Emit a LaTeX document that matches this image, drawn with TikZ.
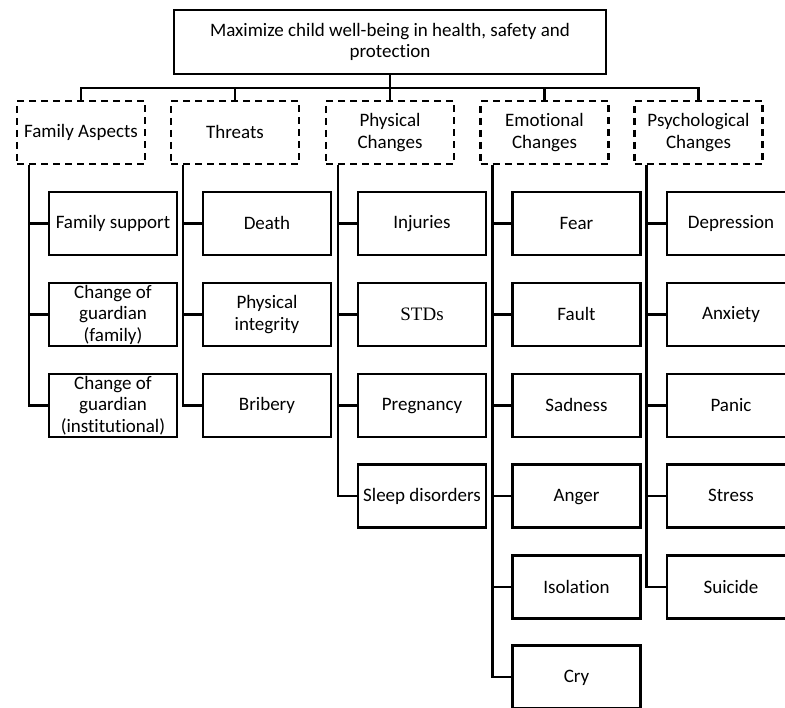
\documentclass[tikz,border=0pt]{standalone}
\usepackage{fontspec}
\setmainfont{Carlito}[Ligatures=NoCommon]
\newfontfamily\serifstd{Liberation Serif}
\newcommand\boxstrut{\rule[-2pt]{0pt}{16pt}}

\begin{document}
\begin{tikzpicture}[x=1pt,y=-1pt,line width=2.1pt,
	font=\fontsize{19}{21.5}\selectfont,
	every node/.style={execute at begin node=\boxstrut,execute at end node=\boxstrut},
	goalbox/.style={draw,align=center,minimum width=432pt,minimum height=64pt,inner sep=0pt},
	catbox/.style={draw,dash pattern=on 7pt off 5pt,align=center,minimum width=128pt,minimum height=63pt,inner sep=0pt},
	itembox/.style={draw,align=center,minimum width=128pt,minimum height=63pt,inner sep=0pt},
	link/.style={line width=2.1pt}]
\clip (0,0) rectangle (785,708);

\node[goalbox] (goal) at (390,42) {Maximize child well-being in health, safety and\\protection};
\coordinate (bus) at (390,88);

\node[catbox] (fam) at (81,132.5) {Family Aspects};
\node[catbox] (thr) at (235,132.5) {Threats};
\node[catbox] (phy) at (390,132.5) {Physical\\Changes};
\node[catbox] (emo) at (544.5,132.5) {Emotional\\Changes};
\node[catbox] (psy) at (698.5,132.5) {Psychological\\Changes};

\draw[link] (goal.south) -- (bus);
\foreach \c in {fam,thr,phy,emo,psy}
	\draw[link] (bus) -| (\c.north);

% family aspects
\node[itembox] (fam1) at (113,223.5) {Family support};
\node[itembox] (fam2) at (113,314.5) {Change of\\guardian\\(family)};
\node[itembox] (fam3) at (113,405.5) {Change of\\guardian\\(institutional)};
% threats
\node[itembox] (thr1) at (267,223.5) {Death};
\node[itembox] (thr2) at (267,314.5) {Physical\\integrity};
\node[itembox] (thr3) at (267,405.5) {Bribery};
% physical changes
\node[itembox] (phy1) at (422,223.5) {Injuries};
\node[itembox] (phy2) at (422,314.5) {\serifstd STDs};
\node[itembox] (phy3) at (422,405.5) {Pregnancy};
\node[itembox] (phy4) at (422,496) {Sleep disorders};
% emotional changes
\node[itembox] (emo1) at (576.5,223.5) {Fear};
\node[itembox] (emo2) at (576.5,314.5) {Fault};
\node[itembox] (emo3) at (576.5,405.5) {Sadness};
\node[itembox] (emo4) at (576.5,496) {Anger};
\node[itembox] (emo5) at (576.5,587) {Isolation};
\node[itembox] (emo6) at (576.5,677) {Cry};
% psychological changes
\node[itembox] (psy1) at (731,223.5) {Depression};
\node[itembox] (psy2) at (731,314.5) {Anxiety};
\node[itembox] (psy3) at (731,405.5) {Panic};
\node[itembox] (psy4) at (731,496) {Stress};
\node[itembox] (psy5) at (731,587) {Suicide};

\foreach \i in {1,...,3}
	\draw[link] ([xshift=13pt]fam.south west) |- (fam\i.west);
\foreach \i in {1,...,3}
	\draw[link] ([xshift=13pt]thr.south west) |- (thr\i.west);
\foreach \i in {1,...,4}
	\draw[link] ([xshift=13pt]phy.south west) |- (phy\i.west);
\foreach \i in {1,...,6}
	\draw[link] ([xshift=13pt]emo.south west) |- (emo\i.west);
\foreach \i in {1,...,5}
	\draw[link] ([xshift=13pt]psy.south west) |- (psy\i.west);
\end{tikzpicture}
\end{document}
